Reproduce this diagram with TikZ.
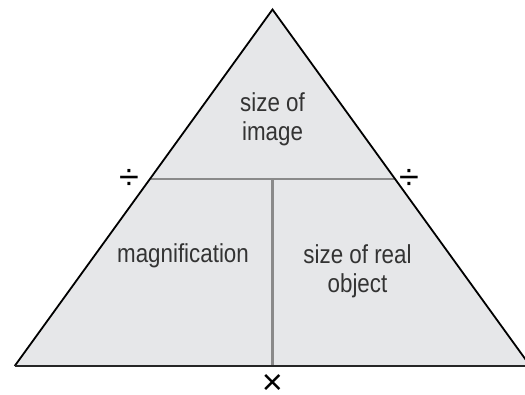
\documentclass[tikz,border=0pt]{standalone}
\usepackage{fontspec}
\setmainfont{Liberation Sans}[FakeStretch=0.86]
\newfontfamily\symfont{Liberation Sans}
\definecolor{trifill}{HTML}{E6E7E9}
\definecolor{divline}{HTML}{8A8A8A}
\definecolor{txt}{HTML}{333333}
\begin{document}
\begin{tikzpicture}[x=1pt,y=-1pt,
  lbl/.style={inner sep=0pt,align=center,text=txt,font=\fontsize{26}{29}\selectfont},
  sym/.style={inner sep=0pt,text=black,font=\symfont\fontsize{36}{36}\selectfont},
  divider/.style={draw=divline,line width=2.2pt}]
\useasboundingbox (0,0) rectangle (525,394);
\clip (0,0) rectangle (525,394);
\coordinate (apex) at (272.5,9.5);
\coordinate (bl) at (14.7,366);
\coordinate (br) at (530.3,366);
\coordinate (ml) at (150.5,179);
\coordinate (mr) at (394.5,179);
\coordinate (mid) at (272.5,179);
\coordinate (bm) at (272.5,366);
\fill[trifill] (apex) -- (bl) -- (br) -- cycle;
\draw[divider] (ml) -- (mr);
\draw[divider] (mid) -- (bm);
\draw[black,line width=1.8pt,line join=miter] (bl) -- (apex) -- (br);
\draw[black!85,line width=2.2pt] (bl) -- (br);
\node[lbl] (top) at (272.5,119) {size of\\image};
\node[lbl] (left) at (183,256) {magnification};
\node[lbl] (right) at (357.5,271) {size of real\\object};
\node[sym] (divl) at (129,179) {÷};
\node[sym] (divr) at (409,179) {÷};
\node[sym] (times) at (272.5,384) {×};
\end{tikzpicture}
\end{document}
